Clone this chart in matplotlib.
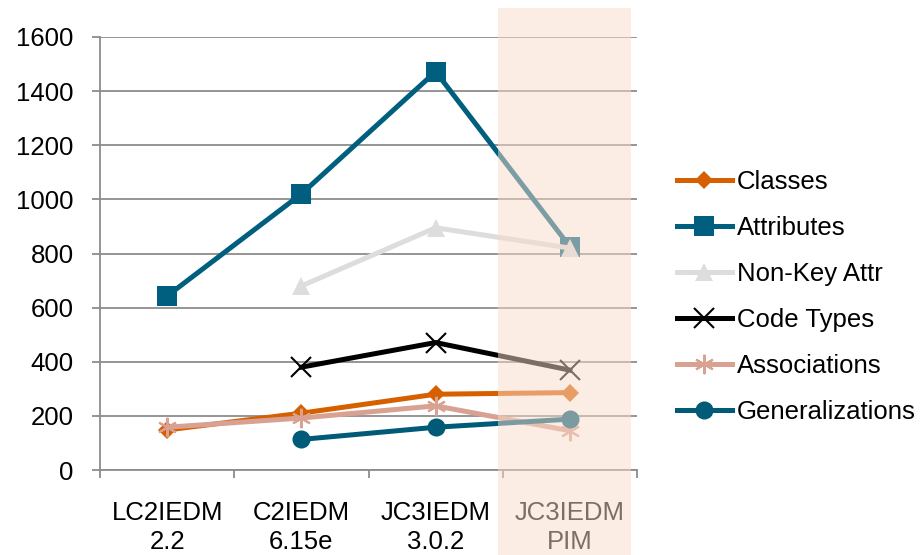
import numpy as np
import matplotlib
matplotlib.use('Agg')
import matplotlib.pyplot as plt
import matplotlib.transforms as mtransforms
from matplotlib.patches import Rectangle

plt.rcParams['font.family'] = ['Liberation Sans', 'DejaVu Sans']

# Data
models = ['LC2IEDM\n2.2', 'C2IEDM\n6.15e', 'JC3IEDM\n3.0.2', 'JC3IEDM\nPIM']
classes = [148, 210, 280, 286]
attributes = [643, 1020, 1472, 825]
non_key_attr = [np.nan, 680, 895, 820]
code_types = [np.nan, 380, 471, 369]
associations = [158, 192, 237, 145]
generalizations = [np.nan, 113, 158, 188]

x = np.arange(len(models))
fs = 18.5

fig = plt.figure(figsize=(9.23, 5.55), dpi=100)
ax = fig.add_axes([100 / 923, 1 - 470 / 555, 537 / 923, 433 / 555])

lw = 3.6
ax.plot(x, classes, color='#D65F00', lw=lw, marker='D', ms=9, mew=0, label='Classes')
ax.plot(x, attributes, color='#005F7F', lw=lw, marker='s', ms=14, mew=0, label='Attributes')
ax.plot(x, non_key_attr, color='#DDDDDD', lw=lw, marker='^', ms=13, mew=0, label='Non-Key Attr')
ax.plot(x, code_types, color='black', lw=lw, marker='x', ms=14, mew=1.5, label='Code Types')
ax.plot(x, associations, color='#D9A192', lw=lw, marker=(6, 2, 0), ms=14, mew=1.5, label='Associations')
ax.plot(x, generalizations, color='#005A78', lw=lw, marker='o', ms=13, mew=0, label='Generalizations')

ax.set_xlim(-0.5, 3.5)
ax.set_ylim(0, 1600)
ax.set_yticks(np.arange(0, 1601, 200))
ax.set_xticks(x)
ax.set_xticklabels(models, linespacing=1.3)
ax.set_xticks(np.arange(-0.5, 3.6, 1), minor=True)

grid_col = '#8C8C8C'
ax.grid(axis='y', color=grid_col, lw=1.3)
ax.set_axisbelow(True)
for s in ['top', 'right']:
    ax.spines[s].set_visible(False)
for s in ['left', 'bottom']:
    ax.spines[s].set_color(grid_col)
    ax.spines[s].set_linewidth(1.3)

ax.tick_params(axis='y', length=6, width=1.3, color=grid_col, pad=13, labelsize=fs)
ax.tick_params(axis='x', which='major', length=0, pad=22, labelsize=fs)
ax.tick_params(axis='x', which='minor', length=6, width=1.3, color=grid_col)

# translucent highlight over the last category (covers lines and label)
trans = mtransforms.blended_transform_factory(ax.transData, fig.transFigure)
rect = Rectangle((2.463, 0), 0.993, 1 - 8 / 555, transform=trans,
                 facecolor='#F8DCCA', alpha=0.5, edgecolor='none',
                 clip_on=False, zorder=10)
fig.add_artist(rect)

fig.legend(*ax.get_legend_handles_labels(), loc='center left',
           bbox_to_anchor=(677 / 923, 1 - 297 / 555), frameon=False,
           fontsize=fs, borderpad=0, borderaxespad=0, handlelength=2.14,
           handletextpad=0.2, labelspacing=0.85)

fig.savefig('out.png', dpi=100)
